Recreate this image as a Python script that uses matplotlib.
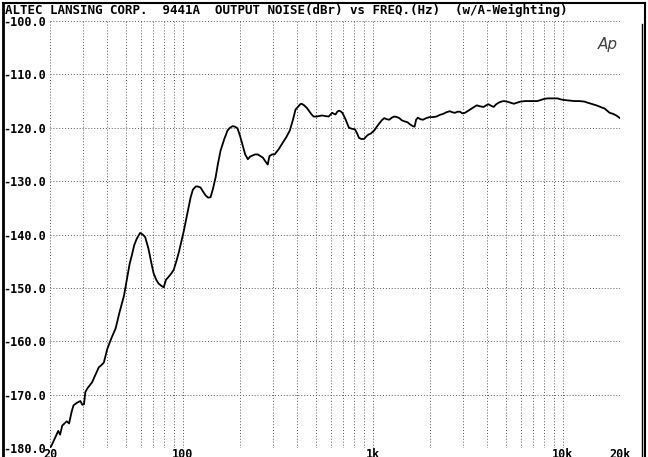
import matplotlib
matplotlib.use('Agg')
import matplotlib.pyplot as plt
from matplotlib.lines import Line2D
import numpy as np

# output noise of the amp
freq = [20.0, 20.4, 21.2, 22.1, 22.6, 23.2, 24.5, 25.2, 26.0, 26.6, 27.8, 28.9,
        29.6, 30.2, 30.7, 31.5, 33.3, 35.0, 36.1, 37.2, 38.4, 40.0, 42.0, 44.3,
        46.5, 49.0, 51.0, 52.5, 54.0, 55.5, 57.2, 59.6, 61.5, 63.4, 66.0, 68.0,
        70.1, 72.5, 74.6, 77.0, 79.3, 81.5, 84.3, 87.0, 89.6, 92.5, 95.2, 98.0,
        101, 105, 110, 113, 117, 120, 124, 128, 132, 136, 140, 144, 149, 153,
        158, 165, 172, 177, 183, 188, 194, 200, 207, 213, 220, 226, 233, 240,
        248, 256, 264, 272, 280, 283, 286, 295, 304, 320, 337, 350, 366, 380,
        392, 415, 422, 435, 450, 465, 476, 488, 506, 525, 541, 560, 586, 600,
        612, 625, 637, 650, 663, 676, 691, 705, 720, 735, 749, 778, 806, 825,
        846, 870, 900, 920, 938, 958, 976, 995, 1018, 1050, 1081, 1115, 1149,
        1185, 1221, 1260, 1298, 1340, 1380, 1420, 1468, 1529, 1560, 1593, 1625,
        1659, 1690, 1727, 1780, 1836, 1910, 1992, 2080, 2164, 2250, 2347, 2440,
        2545, 2620, 2706, 2790, 2878, 2960, 3058, 3150, 3248, 3380, 3526, 3680,
        3829, 3950, 4069, 4200, 4328, 4460, 4598, 4750, 4892, 5088, 5300, 5525,
        5750, 5989, 6350, 6767, 7050, 7351, 7650, 7969, 8300, 8637, 9000, 9384,
        9780, 10172, 10800, 11512, 12200, 13011, 13500, 14104, 14700, 15292,
        16000, 16611, 17100, 17654, 18400, 19116, 20000]
noise_dbr = [-180.0, -179.5, -178.2, -176.8, -177.5, -175.8, -175.0, -175.4, -173.2,
             -172.0, -171.5, -171.2, -171.9, -171.8, -169.5, -168.8, -167.7, -166.0,
             -164.9, -164.5, -164.0, -161.5, -159.5, -157.6, -154.5, -151.5, -148.0,
             -145.5, -143.8, -142.0, -140.8, -139.7, -140.0, -140.5, -142.7, -145.0,
             -147.2, -148.5, -149.2, -149.6, -149.9, -148.5, -147.9, -147.3, -146.6,
             -145.0, -143.4, -141.5, -139.5, -136.5, -133.0, -131.6, -131.0, -131.0,
             -131.2, -132.0, -132.7, -133.1, -133.0, -131.5, -129.2, -126.8, -124.3,
             -122.2, -120.5, -120.0, -119.7, -119.8, -120.1, -121.5, -123.4, -125.0,
             -125.9, -125.4, -125.2, -125.0, -125.0, -125.3, -125.6, -126.3, -126.9,
             -126.0, -125.3, -125.0, -125.0, -124.0, -122.7, -121.8, -120.5, -118.5,
             -116.6, -115.6, -115.5, -115.8, -116.3, -117.0, -117.5, -117.9, -117.9,
             -117.8, -117.7, -117.8, -117.9, -117.5, -117.2, -117.4, -117.5, -117.0,
             -116.8, -116.9, -117.2, -117.8, -118.5, -119.3, -120.0, -120.2, -120.3,
             -121.0, -121.9, -122.1, -122.1, -121.7, -121.4, -121.2, -121.1, -120.8,
             -120.5, -119.8, -119.2, -118.6, -118.2, -118.4, -118.5, -118.1, -117.9,
             -118.0, -118.2, -118.6, -118.8, -119.0, -119.3, -119.5, -119.7, -119.8,
             -118.5, -118.1, -118.4, -118.5, -118.2, -118.0, -118.0, -117.9, -117.6,
             -117.4, -117.1, -116.9, -117.1, -117.2, -117.0, -117.0, -117.3, -117.2,
             -116.9, -116.6, -116.2, -115.8, -116.0, -116.1, -115.8, -115.6, -115.9,
             -116.1, -115.6, -115.3, -115.1, -115.0, -115.1, -115.3, -115.5, -115.3,
             -115.1, -115.0, -115.0, -115.0, -115.0, -114.8, -114.6, -114.5, -114.5,
             -114.5, -114.5, -114.7, -114.8, -114.9, -115.0, -115.0, -115.1, -115.3,
             -115.5, -115.7, -115.9, -116.2, -116.4, -116.8, -117.2, -117.4, -117.7,
             -118.2]

x_ticks = [20, 100, 1000, 10000, 20000]
x_labels = ['20', '100', '1k', '10k', '20k']
y_ticks = [-100, -110, -120, -130, -140, -150, -160, -170, -180]
y_labels = ['%.1f' % v for v in y_ticks]
title = 'ALTEC LANSING CORP.  9441A  OUTPUT NOISE(dBr) vs FREQ.(Hz)  (w/A-Weighting)'

W, H = 648, 457
fig = plt.figure(figsize=(W / 100, H / 100), dpi=100)
ax = fig.add_axes([50 / W, 1 - 448 / H, 570 / W, 427 / H])

ax.plot(freq, noise_dbr, color='black', lw=1.3)

ax.set_xscale('log')
ax.set_xlim(20, 20000)
ax.set_ylim(-180, -100)

mono = dict(family='DejaVu Sans Mono', weight='bold', size=9)
lab = dict(family='DejaVu Sans Mono', weight='bold', size=8.5)
ax.set_xticks(x_ticks)
ax.set_xticklabels(x_labels, **lab)
minor = [m * d for d in [10, 100, 1000, 10000] for m in range(2, 10) if 20 < m * d < 20000]
ax.set_xticks(minor, minor=True)
ax.xaxis.set_minor_formatter(plt.NullFormatter())
ax.set_yticks(y_ticks)
ax.set_yticklabels(y_labels, **lab)
ax.tick_params(which='both', length=0)
ax.tick_params(axis='x', pad=0)
ax.tick_params(axis='y', pad=3)

ax.grid(which='both', axis='x', ls=(0, (1, 2)), color='0.35', lw=0.7)
ax.grid(which='major', axis='y', ls=(0, (1, 2)), color='0.35', lw=0.7)
for s in ax.spines.values():
    s.set_visible(False)

fig.text(5 / W, 1 - 10.5 / H, title, ha='left', va='center', **mono)
fig.text(598 / W, 1 - 44 / H, 'Ap', ha='left', va='center', fontsize=11,
         style='italic', family='DejaVu Sans', color='0.25')

# outer frame of the printout
for xs, ys, lw in [([2.5 / W, 2.5 / W], [0, 1 - 2.5 / H], 2.0),
                   ([2.5 / W, 645 / W], [1 - 2.5 / H, 1 - 2.5 / H], 1.5),
                   ([645 / W, 645 / W], [0, 1 - 2.5 / H], 1.5),
                   ([641.5 / W, 641.5 / W], [0, 1 - 24 / H], 1.0)]:
    fig.add_artist(Line2D(xs, ys, color='black', lw=lw, transform=fig.transFigure))

fig.savefig('out.png', dpi=100)
